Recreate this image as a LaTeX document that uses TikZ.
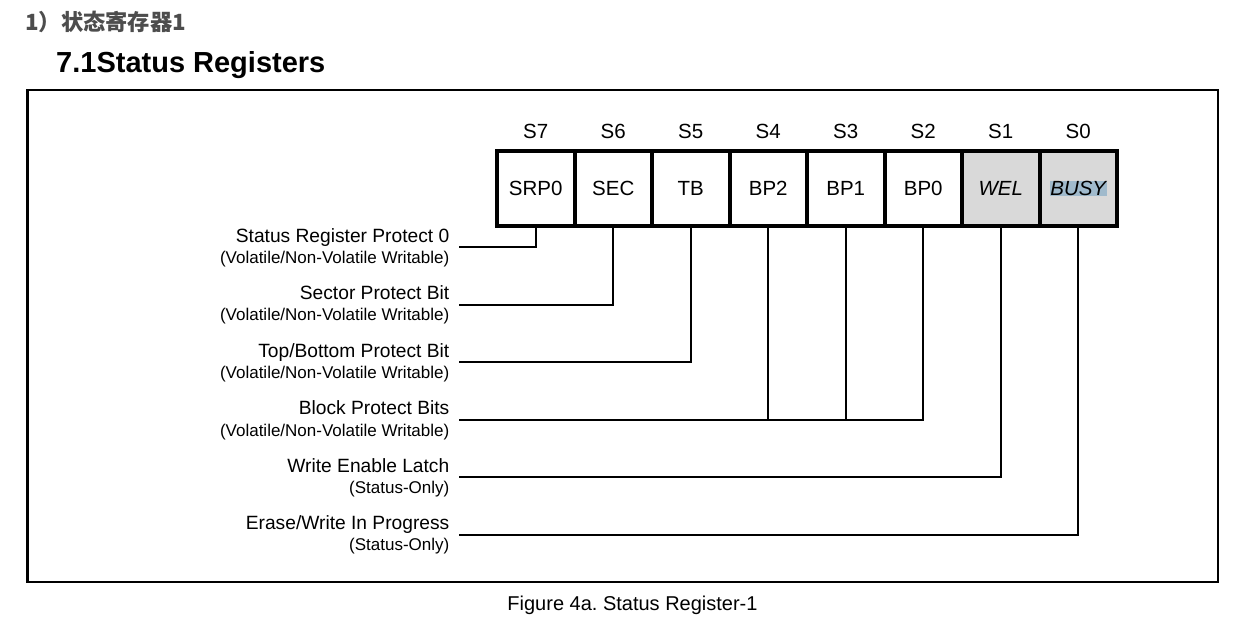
\documentclass[tikz,border=0pt]{standalone}
\usepackage{fontspec}
\setmainfont{Liberation Sans}
\newfontfamily\cjkfont{Noto Sans CJK SC}
\definecolor{headgray}{RGB}{77,77,77}
\definecolor{cellgray}{RGB}{217,217,217}
\definecolor{selblue}{RGB}{160,186,204}
\frenchspacing
\begin{document}
\begin{tikzpicture}[x=1bp,y=-1bp,
  cell/.style={draw,line width=4bp,minimum width=77.5bp,minimum height=75bp,inner sep=0pt,
               font=\fontsize{20.5bp}{24bp}\selectfont},
  bitname/.style={inner sep=0pt,font=\fontsize{20.5bp}{24bp}\selectfont},
  mainlbl/.style={anchor=base east,inner sep=0pt,font=\fontsize{19.2bp}{22bp}\selectfont},
  sublbl/.style={anchor=base east,inner sep=0pt,font=\fontsize{17bp}{20bp}\selectfont},
  wire/.style={line width=2bp}]
\useasboundingbox (0,0) rectangle (1245,630);

% headings
\node[anchor=base west,inner sep=0pt,text=headgray,font=\cjkfont\bfseries\fontsize{22.3bp}{26bp}\selectfont] (h1) at (25,31) {1）状态寄存器1};
\node[anchor=base west,inner sep=0pt,font=\bfseries\fontsize{29bp}{34bp}\selectfont] (h2) at (56,72.5) {7.1Status Registers};

% outer frame
\draw[line width=2.5bp] (27.5,90) rectangle (1218,582);

% register cells, S7 ... S0
\foreach \n/\t [count=\i from 0] in {7/SRP0,6/SEC,5/TB,4/BP2,3/BP1,2/BP0}{
  \node[cell] (c\n) at (535.75+77.5*\i,188.5) {\t};
}
\node[cell,fill=cellgray] (c1) at (1000.75,188.5) {\itshape WEL};
\node[cell,fill=cellgray] (c0) at (1078.25,188.5) {};
\node[inner sep=0.5bp,fill=selblue,font=\fontsize{20.5bp}{24bp}\selectfont\itshape] (busy) at (c0) {BUSY};

% bit numbers
\foreach \n in {7,...,0}{
  \node[bitname] (s\n) at (c\n.center |- 0,131) {S\n};
}

% descriptions
\node[mainlbl] (m7) at (449.5,242.5) {Status Register Protect 0};
\node[sublbl]  (d7) at (449.5,263.5) {(Volatile/Non-Volatile Writable)};
\node[mainlbl] (m6) at (449.5,300) {Sector Protect Bit};
\node[sublbl]  (d6) at (449.5,321) {(Volatile/Non-Volatile Writable)};
\node[mainlbl] (m5) at (449.5,357.5) {Top/Bottom Protect Bit};
\node[sublbl]  (d5) at (449.5,378.5) {(Volatile/Non-Volatile Writable)};
\node[mainlbl] (m4) at (449.5,414.5) {Block Protect Bits};
\node[sublbl]  (d4) at (449.5,436.5) {(Volatile/Non-Volatile Writable)};
\node[mainlbl] (m1) at (449.5,472) {Write Enable Latch};
\node[sublbl]  (d1) at (449.5,493) {(Status-Only)};
\node[mainlbl] (m0) at (449.5,529) {Erase/Write In Progress};
\node[sublbl]  (d0) at (449.5,550.5) {(Status-Only)};

% connector start points
\coordinate (r7) at (459,247);
\coordinate (r6) at (459,305);
\coordinate (r5) at (459,362);
\coordinate (r4) at (459,420);
\coordinate (r1) at (459,477);
\coordinate (r0) at (459,534.5);

\draw[wire] (r7) -| (c7.south);
\draw[wire] (r6) -| (c6.south);
\draw[wire] (r5) -| (c5.south);
\draw[wire] (r4) -| (c2.south);
\draw[wire] (c4.south) -- (c4.south |- r4);
\draw[wire] (c3.south) -- (c3.south |- r4);
\draw[wire] (r1) -| (c1.south);
\draw[wire] (r0) -| (c0.south);

% caption
\node[anchor=base,inner sep=0pt,font=\fontsize{20bp}{24bp}\selectfont] (cap) at (632.5,610.5) {Figure 4a. Status Register-1};
\end{tikzpicture}
\end{document}
